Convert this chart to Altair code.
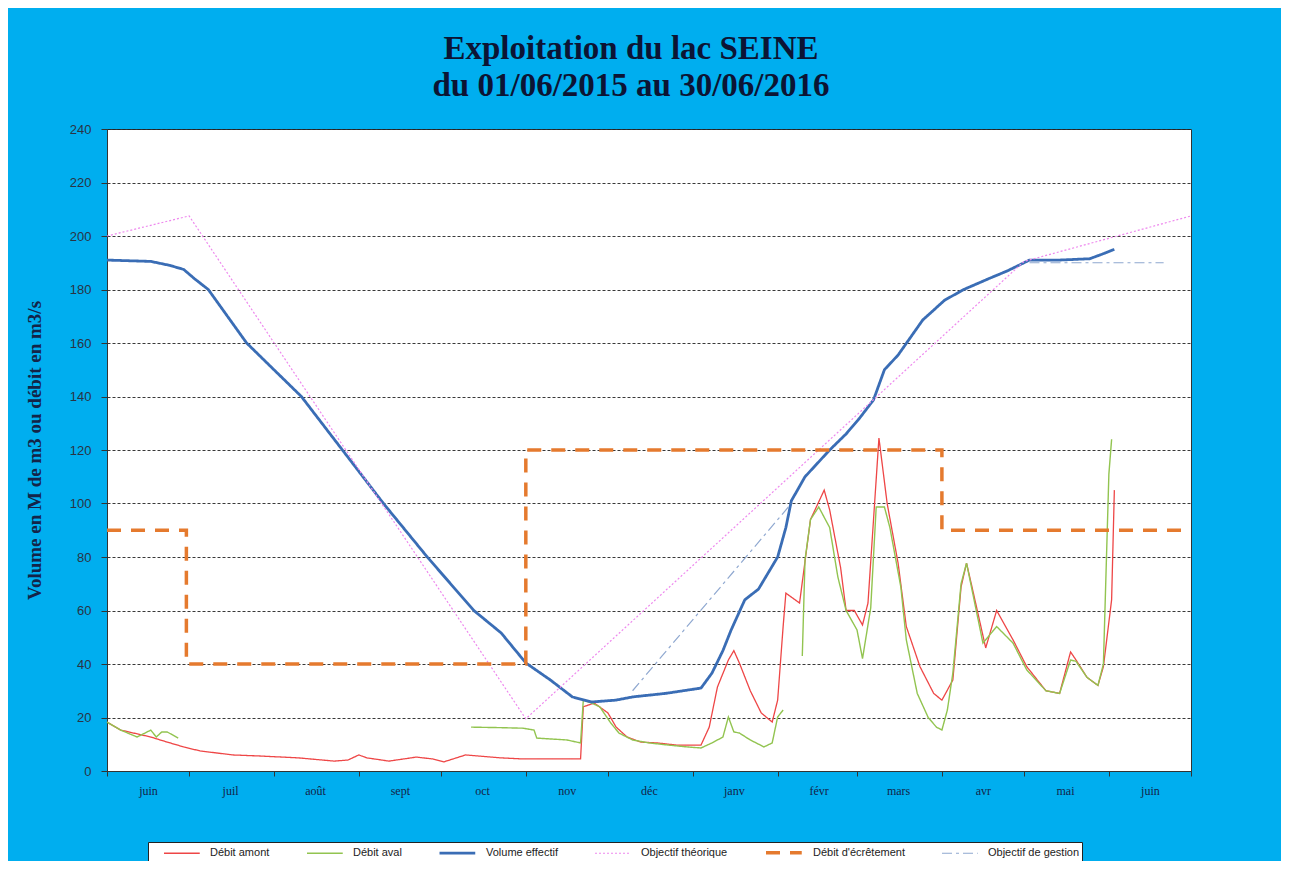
import altair as alt
import pandas as pd

# ---------------- data ----------------
SERIES = ["Débit amont", "Débit aval", "Volume effectif",
          "Objectif théorique", "Débit d'écrêtement", "Objectif de gestion"]

amont_dates = ["2015-06-01", "2015-06-06", "2015-06-17", "2015-06-23", "2015-06-29", "2015-07-05",
               "2015-07-17", "2015-07-27", "2015-08-10", "2015-08-23", "2015-08-28", "2015-09-01",
               "2015-09-04", "2015-09-12", "2015-09-22", "2015-09-28", "2015-10-02", "2015-10-10",
               "2015-10-23", "2015-10-31", "2015-11-21", "2015-11-22", "2015-11-26", "2015-12-01",
               "2015-12-04", "2015-12-08", "2015-12-13", "2015-12-19", "2015-12-26", "2016-01-04",
               "2016-01-07", "2016-01-10", "2016-01-14", "2016-01-16", "2016-01-18", "2016-01-22",
               "2016-01-26", "2016-01-30", "2016-02-01", "2016-02-03", "2016-02-04", "2016-02-09",
               "2016-02-13", "2016-02-18", "2016-02-20", "2016-02-24", "2016-02-26", "2016-02-29",
               "2016-03-03", "2016-03-05", "2016-03-09", "2016-03-12", "2016-03-16", "2016-03-19",
               "2016-03-24", "2016-03-29", "2016-04-01", "2016-04-05", "2016-04-08", "2016-04-10",
               "2016-04-12", "2016-04-17", "2016-04-21", "2016-04-27", "2016-05-02", "2016-05-09",
               "2016-05-14", "2016-05-18", "2016-05-20", "2016-05-24", "2016-05-28", "2016-05-30",
               "2016-06-02", "2016-06-03"]
amont_vals = [18.3, 15.3, 12.7, 10.8, 9.0, 7.5, 6.0, 5.6, 4.9, 3.7, 4.1, 6.0, 4.9, 3.7, 5.2,
              4.5, 3.4, 6.0, 4.9, 4.5, 4.5, 24.0, 25.4, 21.7, 16.4, 12.7, 10.8, 10.5, 9.7, 9.7,
              16.4, 31.4, 41.5, 45.0, 40.4, 30.0, 21.7, 18.3, 26.5, 54.0, 66.5, 62.8, 94.0, 105.0,
              97.6, 76.0, 60.0, 60.0, 54.6, 62.8, 124.5, 100.0, 77.7, 54.0, 39.0, 29.0, 26.5, 34.0,
              68.8, 77.7, 68.8, 46.0, 60.0, 49.0, 39.0, 30.0, 29.0, 44.5, 41.5, 35.0, 32.0, 39.0,
              64.0, 105.0]

aval_dates = ["2015-06-01", "2015-06-06", "2015-06-12", "2015-06-17", "2015-06-19", "2015-06-21",
              "2015-06-23", "2015-06-27",
              "2015-10-12", "2015-10-23", "2015-10-31", "2015-11-04", "2015-11-05", "2015-11-16",
              "2015-11-21", "2015-11-22", "2015-11-25", "2015-11-28", "2015-12-02", "2015-12-05",
              "2015-12-10", "2015-12-16", "2015-12-23", "2015-12-30", "2016-01-04", "2016-01-08",
              "2016-01-12", "2016-01-14", "2016-01-16", "2016-01-18", "2016-01-22", "2016-01-27",
              "2016-01-30", "2016-02-01", "2016-02-03",
              "2016-02-10", "2016-02-11", "2016-02-13", "2016-02-16", "2016-02-20", "2016-02-23",
              "2016-02-26", "2016-03-01", "2016-03-03", "2016-03-06", "2016-03-08", "2016-03-11",
              "2016-03-13", "2016-03-17", "2016-03-19", "2016-03-23", "2016-03-27", "2016-03-30",
              "2016-04-01", "2016-04-03", "2016-04-05", "2016-04-08", "2016-04-10", "2016-04-16",
              "2016-04-21", "2016-04-27", "2016-05-02", "2016-05-09", "2016-05-14", "2016-05-18",
              "2016-05-20", "2016-05-24", "2016-05-28", "2016-05-30", "2016-06-01", "2016-06-02"]
aval_vals = [18.3, 15.3, 12.7, 15.3, 12.7, 14.6, 14.6, 12.3,
             16.4, 16.2, 16.0, 15.3, 12.3, 11.6, 10.5, 26.5, 25.4, 24.0, 18.0, 14.2, 11.6, 10.5,
             9.7, 9.0, 8.6, 10.5, 12.7, 20.2, 14.6, 14.2, 11.6, 9.0, 10.5, 20.2, 22.8,
             43.0, 79.0, 94.0, 98.7, 91.0, 72.5, 60.0, 52.7, 42.0, 61.0, 98.7, 98.7, 91.0, 68.8,
             49.0, 29.0, 20.0, 16.4, 15.3, 22.8, 36.6, 70.0, 77.7, 47.8, 54.0, 47.8, 37.8, 30.0,
             29.0, 41.5, 41.0, 35.0, 32.0, 40.0, 111.0, 124.0]
aval_seg = [1] * 8 + [2] * 27 + [3] * 36

volume_dates = ["2015-06-01", "2015-06-17", "2015-06-24", "2015-06-29", "2015-07-03", "2015-07-08",
                "2015-07-15", "2015-07-22", "2015-08-01", "2015-08-11", "2015-08-26", "2015-09-10",
                "2015-09-26", "2015-10-13", "2015-10-23", "2015-11-01", "2015-11-10", "2015-11-18",
                "2015-11-25", "2015-12-04", "2015-12-10", "2015-12-22", "2016-01-04", "2016-01-08",
                "2016-01-12", "2016-01-15", "2016-01-20", "2016-01-25", "2016-02-01", "2016-02-04",
                "2016-02-06", "2016-02-11", "2016-02-20", "2016-02-26", "2016-03-02", "2016-03-07",
                "2016-03-11", "2016-03-16", "2016-03-25", "2016-04-02", "2016-04-09", "2016-04-18",
                "2016-04-25", "2016-05-03", "2016-05-14", "2016-05-25", "2016-05-29", "2016-06-03"]
volume_vals = [191.0, 190.5, 189.0, 187.5, 184.0, 180.0, 170.0, 160.0, 150.0, 140.0, 120.0, 100.0,
               80.0, 60.0, 51.6, 40.4, 34.0, 27.7, 25.8, 26.5, 27.7, 29.0, 31.0, 36.6, 45.0, 52.7,
               64.0, 68.0, 80.0, 91.0, 101.0, 110.0, 120.0, 126.0, 132.0, 138.7, 150.0, 155.5,
               168.6, 176.0, 180.0, 184.0, 187.0, 191.0, 191.0, 191.5, 193.0, 195.0]

theorique_dates = ["2015-06-01", "2015-07-01", "2015-11-01", "2016-05-01", "2016-07-01"]
theorique_vals = [200.0, 207.5, 19.5, 190.5, 207.5]

ecretement_dates = ["2015-06-01", "2015-06-30", "2015-11-01", "2016-04-01", "2016-07-01"]
ecretement_vals = [90, 40, 120, 90, 90]

gestion_dates = ["2015-12-10", "2016-02-06", "2016-05-03", "2016-06-21"]
gestion_vals = [30.0, 100.0, 190.0, 190.0]
gestion_seg = [1, 1, 2, 2]

month_names = ["janv", "févr", "mars", "avr", "mai", "juin",
               "juil", "août", "sept", "oct", "nov", "déc"]

# ---------------- styles ----------------
COLORS = ["#EE4646", "#92C450", "#3A6DB5", "#EE88EE", "#E57A2E", "#8FA8D0"]
DASHES = [[1, 0], [1, 0], [1, 0], [2, 2], [14, 10], [10, 4, 3, 4]]
WIDTHS = [1.3, 1.4, 2.8, 1.2, 3.5, 1.2]


def frame(name, dates, vals, segs=None):
    segs = segs if segs is not None else [1] * len(dates)
    return pd.DataFrame({"date": dates, "value": vals, "series": name,
                         "key": [f"{name}-{s}" for s in segs]})


lines_df = pd.concat([
    frame(SERIES[0], amont_dates, amont_vals),
    frame(SERIES[1], aval_dates, aval_vals, aval_seg),
    frame(SERIES[2], volume_dates, volume_vals),
    frame(SERIES[3], theorique_dates, theorique_vals),
    frame(SERIES[5], gestion_dates, gestion_vals, gestion_seg),
], ignore_index=True)
step_df = frame(SERIES[4], ecretement_dates, ecretement_vals)

tick_values = [alt.DateTime(year=2015 + (5 + i) // 12, month=(5 + i) % 12 + 1, date=1, utc=True)
               for i in range(14)]
names_js = "[" + ",".join(f"'{m}'" for m in month_names) + "]"

x_enc = alt.X(
    "date:T",
    title=None,
    scale=alt.Scale(type="utc", domain=[tick_values[0], tick_values[-1]]),
    axis=alt.Axis(values=tick_values,
                  labelExpr=f"(utcyear(datum.value)==2016 && utcmonth(datum.value)==6) ? '' : {names_js}[utcmonth(datum.value)]",
                  labelOffset=41, labelFlush=False, labelOverlap=False, grid=False,
                  tickSize=5, tickColor="#333", domainColor="#333", labelPadding=9,
                  labelFont="Liberation Serif", labelFontSize=12, labelColor="#142448"),
)
y_enc = alt.Y(
    "value:Q",
    scale=alt.Scale(domain=[0, 240], nice=False),
    axis=alt.Axis(values=list(range(0, 241, 20)), grid=True, gridDash=[3, 2], gridColor="#222",
                  gridOpacity=0.9, domain=False, tickSize=6, tickColor="#333", labelPadding=10,
                  labelFont="Liberation Sans", labelFontSize=13, labelColor="#2a3344",
                  title="Volume en M de m3 ou débit en m3/s", titleFont="Liberation Serif",
                  titleFontSize=19, titleFontWeight="bold", titleColor="#142448", titlePadding=25),
)
legend = alt.Legend(orient="none", legendX=41, legendY=713, direction="horizontal",
                    fillColor="white", strokeColor="#222", padding=2, symbolType="M1,0H6.5",
                    symbolSize=169, labelFont="Liberation Sans", labelFontSize=11,
                    labelColor="#222", columnPadding=23, labelOffset=45)
color_enc = alt.Color("series:N", title=None, scale=alt.Scale(domain=SERIES, range=COLORS), legend=legend)
dash_enc = alt.StrokeDash("series:N", title=None, scale=alt.Scale(domain=SERIES, range=DASHES), legend=legend)
width_enc = alt.StrokeWidth("series:N", title=None,
                            scale=alt.Scale(type="ordinal", domain=SERIES, range=WIDTHS), legend=legend)

lines = alt.Chart(lines_df).mark_line().encode(
    x=x_enc, y=y_enc, color=color_enc, strokeDash=dash_enc, strokeWidth=width_enc, detail="key:N")
steps = alt.Chart(step_df).mark_line(interpolate="step-after").encode(
    x=x_enc, y=y_enc, color=color_enc, strokeDash=dash_enc, strokeWidth=width_enc, detail="key:N")

chart = alt.layer(lines, steps).properties(
    width=1084, height=642,
    background="#00AEEF",
    padding={"left": 99, "top": 121, "right": 90, "bottom": 90},
    autosize=alt.AutoSizeParams(type="none"),
    title=alt.TitleParams(text=["Exploitation du lac SEINE", "du 01/06/2015 au 30/06/2016"],
                          font="Liberation Serif", fontSize=33, fontWeight="bold",
                          color="#0c1434", anchor="middle", dx=-18, offset=20, lineHeight=37),
).configure_view(fill="white", stroke="#333", strokeWidth=1)

chart.save("out.html", embed_options={"renderer": "svg", "actions": False})
